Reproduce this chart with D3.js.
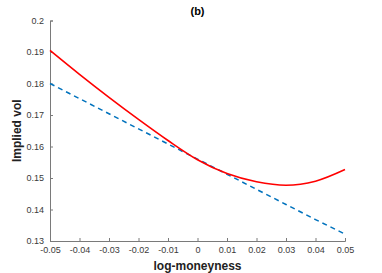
<!DOCTYPE html>
<html>
<head>
<meta charset="utf-8">
<script src="https://cdn.jsdelivr.net/npm/d3@7"></script>
<style>
  body { margin: 0; background: #fff; }
  svg { display: block; font-family: "Liberation Sans", Arial, sans-serif; }
</style>
</head>
<body>
<div id="chart"></div>
<script>
// log-moneyness grid
const xs = [-0.05, -0.04, -0.03, -0.02, -0.01, 0, 0.01, 0.02, 0.03, 0.04, 0.05];
// red solid curve (model smile)
const smileVol = [0.1905, 0.1829, 0.1756, 0.1686, 0.1619, 0.1558, 0.1514, 0.1488, 0.1477, 0.1490, 0.1527];
// blue dashed line (linear approximation)
const linearVol = [0.1800, 0.1752, 0.1704, 0.1656, 0.1608, 0.1560, 0.1512, 0.1464, 0.1416, 0.1368, 0.1322];
const xTicks = [-0.05, -0.04, -0.03, -0.02, -0.01, 0, 0.01, 0.02, 0.03, 0.04, 0.05];
const yTicks = [0.13, 0.14, 0.15, 0.16, 0.17, 0.18, 0.19, 0.2];

const W = 382, H = 273;
const margin = { top: 20.5, right: 37, bottom: 32, left: 50 };
const width = W - margin.left - margin.right;
const height = H - margin.top - margin.bottom;

const svgRoot = d3.select('#chart').append('svg')
    .attr('width', W)
    .attr('height', H);
const svg = svgRoot.append('g')
    .attr('transform', `translate(${margin.left},${margin.top})`);

const x = d3.scaleLinear().domain([-0.05, 0.05]).range([0, width]);
const y = d3.scaleLinear().domain([0.13, 0.2]).range([height, 0]);

// plain hyphen for negatives, like the original figure
const fmtTick = d => d === 0 ? '0' : String(+d.toFixed(2));

// axes, MATLAB style: ticks pointing inward, no box
const axisColor = '#7a7a7a';
const xAxis = svg.append('g')
    .attr('transform', `translate(0,${height})`)
    .call(d3.axisBottom(x).tickValues(xTicks).tickSize(-3).tickPadding(6).tickFormat(fmtTick));
xAxis.select('.domain').attr('stroke', axisColor);
xAxis.selectAll('.tick line').attr('stroke', axisColor);
xAxis.selectAll('text')
    .style('font-size', '9px')
    .style('fill', '#3a3a3a');

const yAxis = svg.append('g')
    .call(d3.axisLeft(y).tickValues(yTicks).tickSize(-3).tickPadding(6).tickFormat(fmtTick));
yAxis.select('.domain').attr('stroke', axisColor);
yAxis.selectAll('.tick line').attr('stroke', axisColor);
yAxis.selectAll('text')
    .style('font-size', '9px')
    .style('fill', '#3a3a3a');

// lines
const lineGen = d3.line()
    .x((d, i) => x(xs[i]))
    .y(d => y(d));

svg.append('path')
    .datum(linearVol)
    .attr('d', lineGen)
    .attr('fill', 'none')
    .attr('stroke', '#0072BD')
    .attr('stroke-width', 1.5)
    .attr('stroke-dasharray', '5,4');

svg.append('path')
    .datum(smileVol)
    .attr('d', lineGen.curve(d3.curveMonotoneX))
    .attr('fill', 'none')
    .attr('stroke', '#ff0000')
    .attr('stroke-width', 1.6);

// title
svg.append('text')
    .attr('x', width / 2)
    .attr('y', -6)
    .attr('text-anchor', 'middle')
    .style('font-size', '11px')
    .style('font-weight', 'bold')
    .style('fill', '#000')
    .text('(b)');

// axis labels
svg.append('text')
    .attr('x', width / 2)
    .attr('y', height + 29)
    .attr('text-anchor', 'middle')
    .style('font-size', '12px')
    .style('font-weight', 'bold')
    .style('fill', '#222')
    .text('log-moneyness');

svg.append('text')
    .attr('transform', 'rotate(-90)')
    .attr('x', -height / 2)
    .attr('y', -29)
    .attr('text-anchor', 'middle')
    .style('font-size', '12px')
    .style('font-weight', 'bold')
    .style('fill', '#222')
    .text('Implied vol');
</script>
</body>
</html>
